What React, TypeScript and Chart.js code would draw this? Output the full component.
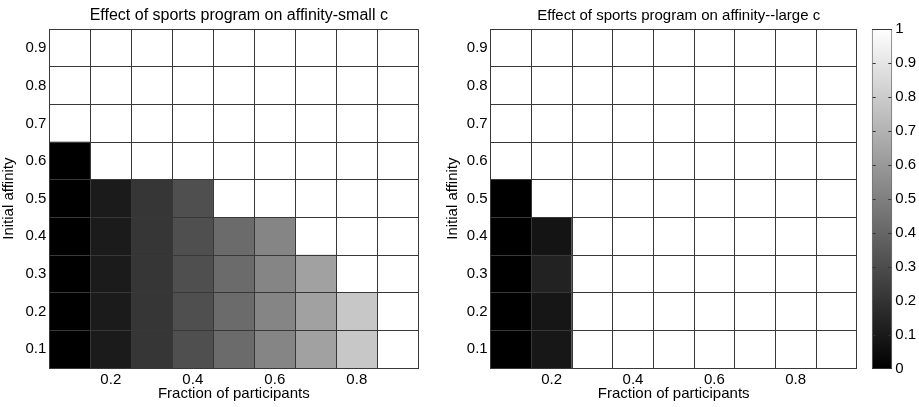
import React, { useEffect, useRef } from 'react';
import { Chart, registerables } from 'chart.js';

Chart.register(...registerables);

// ---------- data ----------
const participationFractions = [0.1, 0.2, 0.3, 0.4, 0.5, 0.6, 0.7, 0.8, 0.9];
const affinityLevels = [0.1, 0.2, 0.3, 0.4, 0.5, 0.6, 0.7, 0.8, 0.9];
const xTickLabels = ['', '0.2', '', '0.4', '', '0.6', '', '0.8', ''];
const yTickLabels = ['0.1', '0.2', '0.3', '0.4', '0.5', '0.6', '0.7', '0.8', '0.9'];
const colorbarTicks = [0, 0.1, 0.2, 0.3, 0.4, 0.5, 0.6, 0.7, 0.8, 0.9, 1];

// small c: one array per initial-affinity row, values ordered by fraction 0.1 ... 0.9
const smallC_a01 = [0, 0.105, 0.21, 0.31, 0.42, 0.52, 0.63, 0.78, 1];
const smallC_a02 = [0, 0.105, 0.21, 0.31, 0.42, 0.52, 0.63, 0.78, 1];
const smallC_a03 = [0, 0.105, 0.21, 0.31, 0.42, 0.52, 0.63, 1, 1];
const smallC_a04 = [0, 0.105, 0.21, 0.31, 0.42, 0.52, 1, 1, 1];
const smallC_a05 = [0, 0.105, 0.21, 0.31, 1, 1, 1, 1, 1];
const smallC_a06 = [0, 1, 1, 1, 1, 1, 1, 1, 1];
const smallC_a07 = [1, 1, 1, 1, 1, 1, 1, 1, 1];
const smallC_a08 = [1, 1, 1, 1, 1, 1, 1, 1, 1];
const smallC_a09 = [1, 1, 1, 1, 1, 1, 1, 1, 1];

// large c
const largeC_a01 = [0, 0.09, 1, 1, 1, 1, 1, 1, 1];
const largeC_a02 = [0, 0.085, 1, 1, 1, 1, 1, 1, 1];
const largeC_a03 = [0, 0.135, 1, 1, 1, 1, 1, 1, 1];
const largeC_a04 = [0, 0.08, 1, 1, 1, 1, 1, 1, 1];
const largeC_a05 = [0, 1, 1, 1, 1, 1, 1, 1, 1];
const largeC_a06 = [1, 1, 1, 1, 1, 1, 1, 1, 1];
const largeC_a07 = [1, 1, 1, 1, 1, 1, 1, 1, 1];
const largeC_a08 = [1, 1, 1, 1, 1, 1, 1, 1, 1];
const largeC_a09 = [1, 1, 1, 1, 1, 1, 1, 1, 1];

const smallCRows = [smallC_a01, smallC_a02, smallC_a03, smallC_a04, smallC_a05, smallC_a06, smallC_a07, smallC_a08, smallC_a09];
const largeCRows = [largeC_a01, largeC_a02, largeC_a03, largeC_a04, largeC_a05, largeC_a06, largeC_a07, largeC_a08, largeC_a09];

// ---------- styling ----------
const FONT_FAMILY = "'Liberation Sans', Arial, Helvetica, sans-serif";
const GRID_COLOR = '#383838';
const half = (affinityLevels[1] - affinityLevels[0]) / 2;

const gray = (v: number) => {
  const c = Math.round(v * 255);
  return `rgb(${c},${c},${c})`;
};
const isEdge = (v: number) => Math.abs(Math.round(v * 20)) % 2 === 1;

const cellEdges = [affinityLevels[0] - half, ...affinityLevels.map((a) => a + half)];
const yAllTicks = [...cellEdges, ...affinityLevels].sort((a, b) => a - b);

type Box = { left: number; top: number; width: number; height: number };

// title placed over the plot area
const plotTitlePlugin = {
  id: 'plotTitle',
  afterDraw(chart: any, _args: any, opts: any) {
    if (!opts || !opts.text) return;
    const { left, right } = chart.chartArea;
    const ctx = chart.ctx;
    ctx.save();
    ctx.fillStyle = '#000';
    ctx.font = `normal ${opts.size}px ${FONT_FAMILY}`;
    ctx.textAlign = 'center';
    ctx.textBaseline = 'alphabetic';
    ctx.fillText(opts.text, (left + right) / 2 + (opts.dx || 0), opts.baseline);
    ctx.restore();
  },
};

function Heatmap({ title, titleSize, rows, box, yAxisWidth, padRight }: { title: string; titleSize: number; rows: number[][]; box: Box; yAxisWidth: number; padRight: number }) {
  const ref = useRef<HTMLCanvasElement | null>(null);
  useEffect(() => {
    if (!ref.current) return;
    const datasets = affinityLevels.map((a, r) => ({
      label: 'a' + a,
      data: participationFractions.map(() => [a - half, a + half]),
      backgroundColor: rows[r].map(gray),
      borderWidth: 0,
      grouped: false,
      barPercentage: 1,
      categoryPercentage: 1,
    }));
    const chart = new Chart(ref.current, {
      type: 'bar',
      data: { labels: participationFractions.map(String), datasets: datasets as any },
      options: {
        animation: false,
        responsive: false,
        events: [],
        layout: { padding: { left: 0, right: padRight, top: 29.3, bottom: 0 } },
        plugins: {
          legend: { display: false },
          tooltip: { enabled: false },
          title: { display: false },
          plotTitle: { text: title, size: titleSize, baseline: 19.6, dx: 5 },
        },
        scales: {
          x: {
            type: 'category',
            offset: true,
            grid: { offset: true, z: 1, color: GRID_COLOR, lineWidth: 1, drawTicks: false },
            border: { display: true, color: GRID_COLOR, width: 1, z: 2 },
            ticks: {
              autoSkip: false,
              maxRotation: 0,
              padding: 3,
              color: '#000',
              font: { family: FONT_FAMILY, size: 15, lineHeight: 1.2 },
              callback: (_v: any, i: number) => xTickLabels[i],
            },
            title: {
              display: true,
              text: 'Fraction of participants',
              color: '#000',
              font: { family: FONT_FAMILY, size: 15, lineHeight: 1.2 },
              padding: { top: 0, bottom: 4 },
            },
            afterFit: (s: any) => {
              s.height = 39;
            },
          },
          y: {
            type: 'linear',
            min: cellEdges[0],
            max: cellEdges[cellEdges.length - 1],
            afterBuildTicks: (s: any) => {
              s.ticks = yAllTicks.map((value) => ({ value }));
            },
            grid: {
              z: 1,
              lineWidth: 1,
              drawTicks: false,
              color: (ctx: any) => (ctx.tick && isEdge(ctx.tick.value) ? GRID_COLOR : 'rgba(0,0,0,0)'),
            },
            border: { display: true, color: GRID_COLOR, width: 1, z: 2 },
            ticks: {
              autoSkip: false,
              padding: 3,
              color: '#000',
              font: { family: FONT_FAMILY, size: 15, lineHeight: 1.2 },
              callback: (v: any) => (isEdge(Number(v)) ? '' : yTickLabels[Math.round(Number(v) * 10) - 1]),
            },
            title: {
              display: true,
              text: 'Initial affinity',
              color: '#000',
              font: { family: FONT_FAMILY, size: 15, lineHeight: 1.2 },
              padding: { top: 0, bottom: 0 },
            },
            afterFit: (s: any) => {
              s.width = yAxisWidth;
            },
          },
        },
      } as any,
      plugins: [plotTitlePlugin],
    });
    return () => chart.destroy();
  }, [title, titleSize, rows, yAxisWidth, padRight]);
  return (
    <canvas
      ref={ref}
      width={box.width}
      height={box.height}
      style={{ position: 'absolute', left: box.left, top: box.top, width: box.width, height: box.height }}
    />
  );
}

const innerTicksPlugin = {
  id: 'innerTicks',
  afterDatasetsDraw(chart: any) {
    const y = chart.scales.y;
    const { left, right } = chart.chartArea;
    const ctx = chart.ctx;
    ctx.save();
    ctx.strokeStyle = '#333';
    ctx.lineWidth = 1;
    y.ticks.forEach((t: any) => {
      if (t.value <= 0 || t.value >= 1) return;
      const py = Math.round(y.getPixelForValue(t.value)) + 0.5;
      ctx.beginPath();
      ctx.moveTo(left + 1, py);
      ctx.lineTo(left + 4, py);
      ctx.moveTo(right - 4, py);
      ctx.lineTo(right - 1, py);
      ctx.stroke();
    });
    ctx.restore();
  },
};

function Colorbar({ box }: { box: Box }) {
  const ref = useRef<HTMLCanvasElement | null>(null);
  useEffect(() => {
    if (!ref.current) return;
    const chart = new Chart(ref.current, {
      type: 'bar',
      data: {
        labels: [''],
        datasets: [
          {
            label: 'colorbar',
            data: [[colorbarTicks[0], colorbarTicks[colorbarTicks.length - 1]]] as any,
            backgroundColor: (ctx: any) => {
              const area = ctx.chart.chartArea;
              if (!area) return '#808080';
              const g = ctx.chart.ctx.createLinearGradient(0, area.bottom, 0, area.top);
              g.addColorStop(0, '#000000');
              g.addColorStop(1, '#ffffff');
              return g;
            },
            borderColor: '#333',
            borderWidth: 1,
            borderSkipped: false,
            inflateAmount: 0,
            barPercentage: 1,
            categoryPercentage: 1,
          },
        ],
      },
      options: {
        animation: false,
        responsive: false,
        events: [],
        layout: { padding: { left: 7.7, right: 0, top: 29, bottom: 38 } },
        plugins: { legend: { display: false }, tooltip: { enabled: false }, title: { display: false } },
        scales: {
          x: { display: false },
          y: {
            position: 'right',
            min: colorbarTicks[0],
            max: colorbarTicks[colorbarTicks.length - 1],
            afterBuildTicks: (s: any) => {
              s.ticks = colorbarTicks.map((value) => ({ value }));
            },
            grid: { display: false, drawTicks: false },
            border: { display: false },
            ticks: {
              autoSkip: false,
              padding: 3,
              color: '#000',
              font: { family: FONT_FAMILY, size: 15, lineHeight: 1.2 },
              callback: (v: any) => {
                const n = Number(v);
                return n === 0 || n === 1 ? String(n) : n.toFixed(1);
              },
            },
            afterFit: (s: any) => {
              s.width = 26.7;
            },
          },
        },
      } as any,
      plugins: [innerTicksPlugin],
    });
    return () => chart.destroy();
  }, []);
  return (
    <canvas
      ref={ref}
      width={box.width}
      height={box.height}
      style={{ position: 'absolute', left: box.left, top: box.top, width: box.width, height: box.height }}
    />
  );
}

export default function App() {
  return (
    <div style={{ position: 'fixed', left: 0, top: 0, width: 919, height: 407, background: '#fff', overflow: 'hidden' }}>
      <Heatmap
        title="Effect of sports program on affinity-small c"
        titleSize={16}
        rows={smallCRows}
        box={{ left: 0, top: 0, width: 440, height: 407 }}
        yAxisWidth={49.3}
        padRight={21.7}
      />
      <Heatmap
        title="Effect of sports program on affinity--large c"
        titleSize={15}
        rows={largeCRows}
        box={{ left: 444, top: 0, width: 420, height: 407 }}
        yAxisWidth={46.7}
        padRight={7.3}
      />
      <Colorbar box={{ left: 864, top: 0, width: 55, height: 407 }} />
    </div>
  );
}
